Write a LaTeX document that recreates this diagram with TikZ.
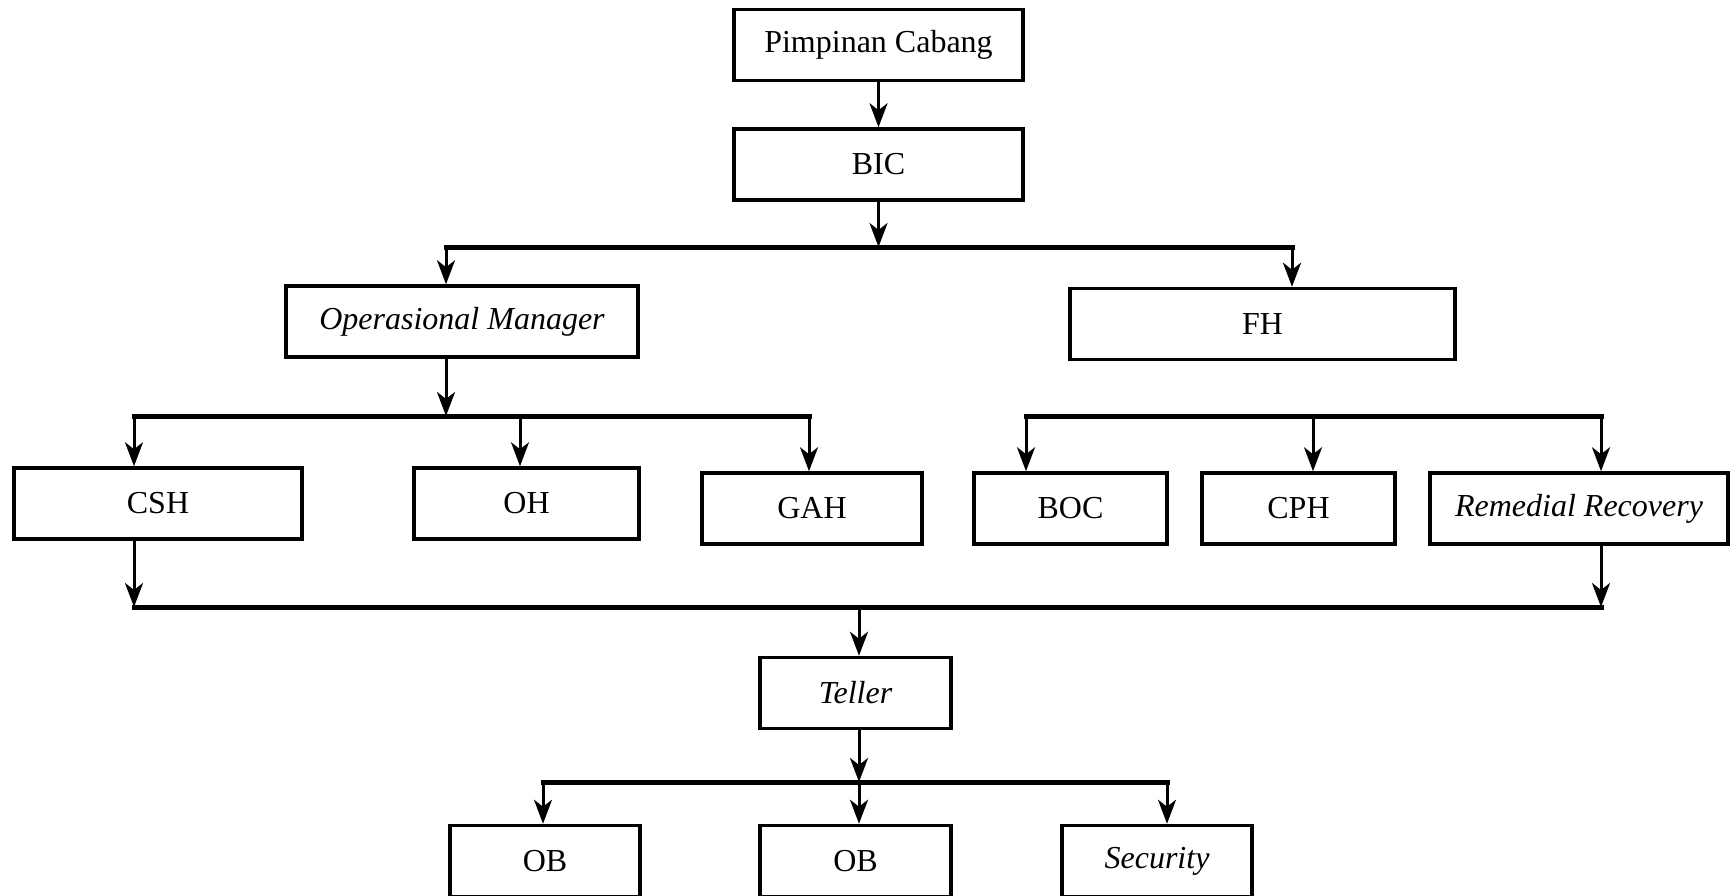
\documentclass[tikz,border=0pt]{standalone}
\usepackage{fontspec}
\setmainfont{Liberation Serif}
\usepackage{tikz}
\usetikzlibrary{arrows.meta,positioning}

\begin{document}
\begin{tikzpicture}[x=1pt,y=-1pt,
		box/.style={draw,line width=3.5pt,minimum height=71pt,inner sep=0pt,font=\fontsize{32}{37}\selectfont},
		arr/.style={line width=3pt,-{Stealth[length=24pt,width=18pt,inset=7pt]}},
		bar/.style={line width=5pt,line cap=rect}]
		\useasboundingbox (0,0) rectangle (1731,896);
		% boxes
		\node[box,minimum width=289pt] (pc) at (878.5,45) {Pimpinan Cabang};
		\node[box,minimum width=289pt] (bic) at (878.5,164.5) {BIC};
		\node[box,minimum width=352pt] (om) at (462,321.5) {\itshape Operasional Manager};
		\node[box,minimum width=385pt] (fh) at (1262.5,324) {FH};
		\node[box,minimum width=288pt] (csh) at (158,503.5) {CSH};
		\node[box,minimum width=225pt] (oh) at (526.5,503.5) {OH};
		\node[box,minimum width=220pt] (gah) at (812,508.5) {GAH};
		\node[box,minimum width=193pt] (boc) at (1070.5,508.5) {BOC};
		\node[box,minimum width=193pt] (cph) at (1298.5,508.5) {CPH};
		\node[box,minimum width=298pt] (rr) at (1579,508.5) {\itshape Remedial Recovery};
		\node[box,minimum width=191pt] (teller) at (855.5,693) {\itshape Teller};
		\node[box,minimum width=190pt] (ob1) at (545,861) {OB};
		\node[box,minimum width=191pt] (ob2) at (855.5,861) {OB};
		\node[box,minimum width=190pt] (sec) at (1157,861) {\itshape Security};
		% bars
		\coordinate (a1) at (446,247); \coordinate (a2) at (1292,247);
		\coordinate (b1) at (134,416); \coordinate (b2) at (809,416);
		\coordinate (c1) at (1026,416); \coordinate (c2) at (1601,416);
		\coordinate (d1) at (134,607); \coordinate (d2) at (1601,607);
		\coordinate (e1) at (543,782); \coordinate (e2) at (1167,782);
		\foreach \p in {a,b,c,d,e} \draw[bar] (\p1) -- (\p2);
		% arrows
		\draw[arr] (pc) -- (bic);
		\draw[arr] (bic.south) -- (bic.south |- a1);
		\draw[arr] (a1) -- (a1 |- om.north);
		\draw[arr] (a2) -- (a2 |- fh.north);
		\draw[arr] (a1 |- om.south) -- (a1 |- b1);
		\draw[arr] (b1) -- (b1 |- csh.north);
		\draw[arr] (520,416) -- (520,0 |- oh.north);
		\draw[arr] (b2) -- (b2 |- gah.north);
		\draw[arr] (c1) -- (c1 |- boc.north);
		\draw[arr] (1313,416) -- (1313,0 |- cph.north);
		\draw[arr] (c2) -- (c2 |- rr.north);
		\draw[arr] (d1 |- csh.south) -- (d1);
		\draw[arr] (d2 |- rr.south) -- (d2);
		\draw[arr] (859,607) -- (859,0 |- teller.north);
		\draw[arr] (859,0 |- teller.south) -- (859,782);
		\draw[arr] (e1) -- (e1 |- ob1.north);
		\draw[arr] (859,782) -- (859,0 |- ob2.north);
		\draw[arr] (e2) -- (e2 |- sec.north);
	\end{tikzpicture}
\end{document}
